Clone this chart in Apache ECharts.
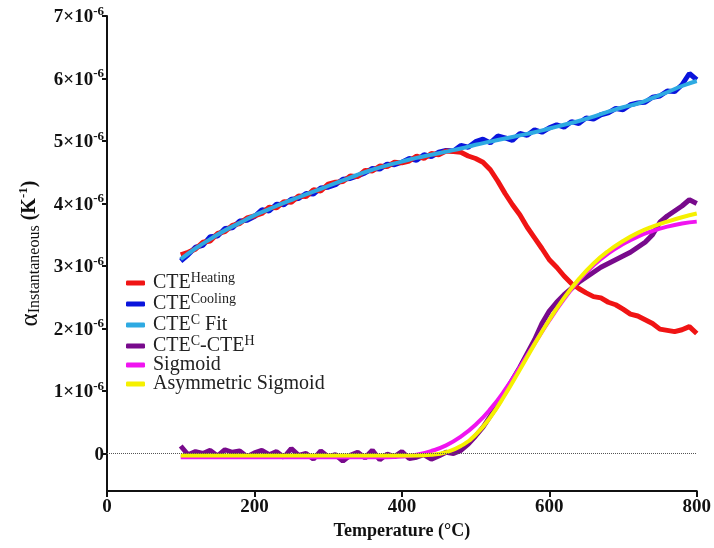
<!DOCTYPE html>
<html>
<head>
<meta charset="utf-8">
<script src="https://cdn.jsdelivr.net/npm/echarts@6/dist/echarts.min.js"></script>
<style>
  html, body { margin: 0; padding: 0; background: #fff; }
  #chart { width: 714px; height: 548px; }
</style>
</head>
<body>
<div id="chart"></div>
<script>
// values in units of 1e-6 K^-1
const temps = [100, 110, 120, 130, 140, 150, 160, 170, 180, 190,
  200, 210, 220, 230, 240, 250, 260, 270, 280, 290,
  300, 310, 320, 330, 340, 350, 360, 370, 380, 390,
  400, 410, 420, 430, 440, 450, 460, 470, 480, 490,
  500, 510, 520, 530, 540, 550, 560, 570, 580, 590,
  600, 610, 620, 630, 640, 650, 660, 670, 680, 690,
  700, 710, 720, 730, 740, 750, 760, 770, 780, 790, 800]

const cteHeating = [3.18, 3.22, 3.27, 3.38, 3.40, 3.52, 3.55, 3.65, 3.68, 3.77,
  3.80, 3.84, 3.94, 3.93, 4.03, 4.02, 4.12, 4.11, 4.22, 4.20,
  4.31, 4.34, 4.35, 4.44, 4.43, 4.53, 4.52, 4.60, 4.59, 4.66,
  4.65, 4.68, 4.76, 4.72, 4.80, 4.78, 4.84, 4.83, 4.82, 4.76,
  4.72, 4.66, 4.54, 4.36, 4.16, 3.98, 3.82, 3.62, 3.45, 3.28,
  3.10, 2.98, 2.84, 2.72, 2.64, 2.57, 2.51, 2.49, 2.42, 2.38,
  2.31, 2.23, 2.20, 2.14, 2.08, 1.99, 1.97, 1.95, 1.98, 2.03, 1.92]

const cteCooling = [3.08, 3.18, 3.30, 3.33, 3.47, 3.48, 3.60, 3.61, 3.72, 3.73,
  3.79, 3.90, 3.88, 3.99, 3.98, 4.07, 4.08, 4.16, 4.15, 4.25,
  4.26, 4.30, 4.39, 4.40, 4.44, 4.49, 4.56, 4.55, 4.63, 4.62,
  4.66, 4.72, 4.69, 4.78, 4.75, 4.82, 4.85, 4.84, 4.93, 4.90,
  4.99, 5.03, 4.97, 5.08, 5.05, 5.01, 5.12, 5.09, 5.18, 5.14,
  5.21, 5.26, 5.22, 5.31, 5.28, 5.37, 5.35, 5.42, 5.45, 5.52,
  5.50, 5.58, 5.61, 5.62, 5.70, 5.72, 5.80, 5.79, 5.90, 6.08, 5.98]

const cteDiff = [0.12, -0.02, 0.03, 0.00, 0.05, -0.04, 0.06, 0.02, 0.04, -0.05,
  0.01, 0.05, -0.02, 0.03, -0.06, 0.08, -0.03, 0.00, -0.09, 0.04,
  -0.05, -0.02, -0.12, -0.03, 0.02, -0.07, 0.05, -0.10, -0.01, -0.05,
  0.03, -0.08, -0.06, -0.02, -0.09, -0.04, 0.02, 0.00, 0.05, 0.15,
  0.28, 0.42, 0.60, 0.78, 0.98, 1.18, 1.38, 1.60, 1.82, 2.08,
  2.28, 2.42, 2.54, 2.64, 2.74, 2.82, 2.90, 2.98, 3.04, 3.10,
  3.16, 3.22, 3.30, 3.38, 3.50, 3.70, 3.80, 3.88, 3.96, 4.06, 4.00]

// fitted curves, every 20 °C
const fitTemps = [100, 120, 140, 160, 180, 200, 220, 240, 260, 280,
  300, 320, 340, 360, 380, 400, 420, 440, 460, 480,
  500, 520, 540, 560, 580, 600, 620, 640, 660, 680,
  700, 720, 740, 760, 780, 800]

const cteCFit = [3.11, 3.28, 3.43, 3.57, 3.69, 3.81, 3.91, 4.01, 4.10, 4.19,
  4.28, 4.37, 4.46, 4.54, 4.61, 4.67, 4.73, 4.78, 4.83, 4.88,
  4.94, 4.99, 5.04, 5.09, 5.14, 5.20, 5.26, 5.32, 5.39, 5.47,
  5.54, 5.60, 5.69, 5.78, 5.88, 5.96]

const sigmoid = [-0.06, -0.06, -0.06, -0.06, -0.06, -0.06, -0.06, -0.06, -0.06, -0.06,
  -0.06, -0.06, -0.06, -0.06, -0.06, -0.05, -0.02, 0.04, 0.13, 0.27,
  0.46, 0.71, 1.02, 1.38, 1.76, 2.13, 2.47, 2.77, 3.01, 3.20,
  3.35, 3.47, 3.56, 3.63, 3.68, 3.71]

const asymSigmoid = [-0.03, -0.03, -0.03, -0.03, -0.03, -0.03, -0.03, -0.03, -0.03, -0.03,
  -0.03, -0.03, -0.03, -0.03, -0.03, -0.03, -0.03, -0.02, 0.02, 0.12,
  0.30, 0.58, 0.94, 1.34, 1.75, 2.14, 2.49, 2.79, 3.04, 3.24,
  3.40, 3.53, 3.63, 3.71, 3.78, 3.84]

const yTicks = [0, 1, 2, 3, 4, 5, 6, 7]

const names = ['CTE Heating', 'CTE Cooling', 'CTE C Fit', 'CTE C-CTE H', 'Sigmoid', 'Asymmetric Sigmoid']
const legendRich = {
  'CTE Heating': '{m|CTE}{s|Heating}',
  'CTE Cooling': '{m|CTE}{s|Cooling}',
  'CTE C Fit': '{m|CTE}{s|C}{m| Fit}',
  'CTE C-CTE H': '{m|CTE}{s|C}{m|-CTE}{s|H}',
  'Sigmoid': '{m|Sigmoid}',
  'Asymmetric Sigmoid': '{m|Asymmetric Sigmoid}'
}

const serif = '"Liberation Serif", "Times New Roman", serif'
const pairs = (xs, ys) => xs.map((x, i) => [x, ys[i]])

const myChart = echarts.init(document.getElementById('chart'))

const lineSeries = (name, xs, ys, color, smooth, width, z) => ({
  name,
  type: 'line',
  data: pairs(xs, ys),
  smooth,
  symbol: 'none',
  z,
  lineStyle: { color, width },
  itemStyle: { color }
})

const option = {
  animation: false,
  backgroundColor: '#fff',
  grid: { left: 107, right: 12, top: 16, bottom: 57 },
  legend: {
    data: names,
    orient: 'vertical',
    left: 121,
    top: 266,
    itemGap: -1,
    itemWidth: 19,
    itemHeight: 5,
    icon: 'roundRect',
    formatter: name => legendRich[name],
    textStyle: {
      padding: [0, 0, 0, 3],
      rich: {
        m: { fontFamily: serif, fontSize: 20, color: '#222', lineHeight: 24 },
        s: { fontFamily: serif, fontSize: 14, color: '#222', padding: [0, 0, 10, 0] }
      }
    }
  },
  xAxis: {
    type: 'value',
    min: 0,
    max: 800,
    interval: 200,
    name: 'Temperature (°C)',
    nameLocation: 'middle',
    nameGap: 27,
    nameTextStyle: { fontFamily: serif, fontWeight: 'bold', fontSize: 18, color: '#111' },
    axisLine: { onZero: false, lineStyle: { color: '#111', width: 2 } },
    axisTick: { show: true, length: 6, lineStyle: { color: '#111', width: 2 } },
    axisLabel: {
      margin: 7,
      fontFamily: serif, fontWeight: 'bold', fontSize: 19, color: '#111'
    },
    splitLine: { show: false }
  },
  yAxis: {
    type: 'value',
    min: -0.6,
    max: 7,
    name: '{a|α}{sub|Instantaneous}{b| (K}{sup|-1}{b|)}',
    nameLocation: 'middle',
    nameGap: 64,
    nameRotate: 90,
    nameTextStyle: {
      rich: {
        a: { fontFamily: serif, fontSize: 25, color: '#111', lineHeight: 26, verticalAlign: 'middle' },
        sub: { fontFamily: serif, fontSize: 16, color: '#111', lineHeight: 14, verticalAlign: 'bottom' },
        b: { fontFamily: serif, fontSize: 20, fontWeight: 'bold', color: '#111', lineHeight: 26, verticalAlign: 'middle' },
        sup: { fontFamily: serif, fontSize: 13, fontWeight: 'bold', color: '#111', lineHeight: 14, verticalAlign: 'top' }
      }
    },
    axisLine: { show: true, lineStyle: { color: '#111', width: 2 } },
    axisTick: { show: true, length: 5, customValues: yTicks, lineStyle: { color: '#111', width: 2 } },
    axisLabel: {
      customValues: yTicks,
      margin: 3,
      formatter: v => (v === 0 ? '{b|0}' : '{b|' + v + '×10}{s|-6}'),
      rich: {
        b: { fontFamily: serif, fontWeight: 'bold', fontSize: 19, color: '#111', lineHeight: 22, verticalAlign: 'bottom' },
        s: { fontFamily: serif, fontWeight: 'bold', fontSize: 13, color: '#111', lineHeight: 12, verticalAlign: 'top' }
      }
    },
    splitLine: { show: false }
  },
  series: [
    lineSeries(names[1], temps, cteCooling, '#0a14dc', false, 5, 2),
    lineSeries(names[0], temps, cteHeating, '#f01414', false, 5, 3),
    lineSeries(names[2], fitTemps, cteCFit, '#2eaae2', true, 4, 4),
    Object.assign(lineSeries(names[3], temps, cteDiff, '#780a8c', false, 5, 2), {
      markLine: {
        silent: true,
        symbol: 'none',
        label: { show: false },
        lineStyle: { color: '#555', type: 'dotted', width: 1 },
        data: [{ yAxis: 0 }]
      }
    }),
    lineSeries(names[4], fitTemps, sigmoid, '#f014f0', true, 4, 3),
    lineSeries(names[5], fitTemps, asymSigmoid, '#f5f000', true, 4, 4)
  ]
}

myChart.setOption(option)
</script>
</body>
</html>
